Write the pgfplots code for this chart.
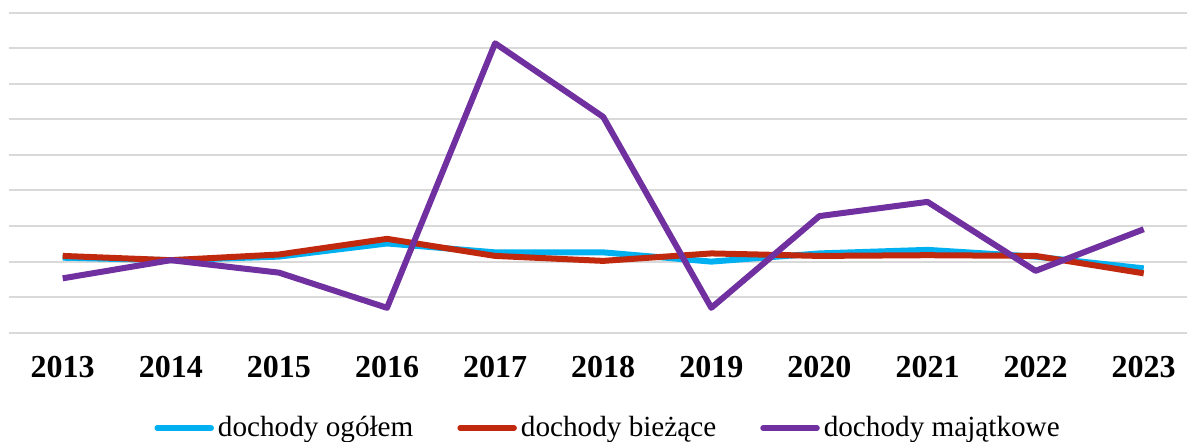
\documentclass[border=0pt]{standalone}
\usepackage{pgfplots}
\pgfplotsset{compat=1.18}
\usepackage{fontspec}
\setmainfont{Liberation Serif}
\definecolor{cblue}{RGB}{0,176,240}
\definecolor{cred}{RGB}{192,41,14}
\definecolor{cpurple}{RGB}{112,48,160}
\definecolor{cgrid}{RGB}{217,217,217}
\begin{document}
\begin{tikzpicture}
\useasboundingbox (0,0) rectangle (593.5pt,220.5pt);
\begin{axis}[
  at={(4.325pt,54.15pt)}, anchor=south west,
  scale only axis, width=589.15pt, height=160pt,
  xmin=-0.5, xmax=10.4, ymin=0, ymax=9,
  xtick={0,...,10},
  xticklabels={2013,2014,2015,2016,2017,2018,2019,2020,2021,2022,2023},
  ytick={0,...,9}, yticklabels={},
  ymajorgrids, grid style={line width=1pt, cgrid},
  axis line style={draw=none},
  major tick length=0pt,
  xticklabel style={font=\rmfamily\bfseries\fontsize{16}{16}\selectfont, yshift=-8pt},
  legend columns=3,
  legend style={at={(axis description cs:0.5096,-0.298)}, anchor=center, draw=none,
    font=\rmfamily\fontsize{14.6}{14.6}\selectfont, inner sep=0pt,
    /tikz/every even column/.append style={column sep=20pt}},
  legend image code/.code={\draw[#1, line width=2.75pt, line cap=round] (0pt,0pt) -- (27pt,0pt);},
  every axis plot/.append style={line width=3pt, line join=round, no markers},
]
\addplot[cblue] coordinates {(0,2.11) (1,2.04) (2,2.14) (3,2.51) (4,2.26) (5,2.26) (6,2.00) (7,2.23) (8,2.33) (9,2.14) (10,1.81)};
\addlegendentry{dochody ogółem}
\addplot[cred] coordinates {(0,2.16) (1,2.04) (2,2.20) (3,2.64) (4,2.16) (5,2.02) (6,2.23) (7,2.16) (8,2.18) (9,2.16) (10,1.67)};
\addlegendentry{dochody bieżące}
\addplot[cpurple] coordinates {(0,1.53) (1,2.04) (2,1.69) (3,0.70) (4,8.14) (5,6.07) (6,0.70) (7,3.28) (8,3.68) (9,1.74) (10,2.91)};
\addlegendentry{dochody majątkowe}
\end{axis}
\end{tikzpicture}
\end{document}
